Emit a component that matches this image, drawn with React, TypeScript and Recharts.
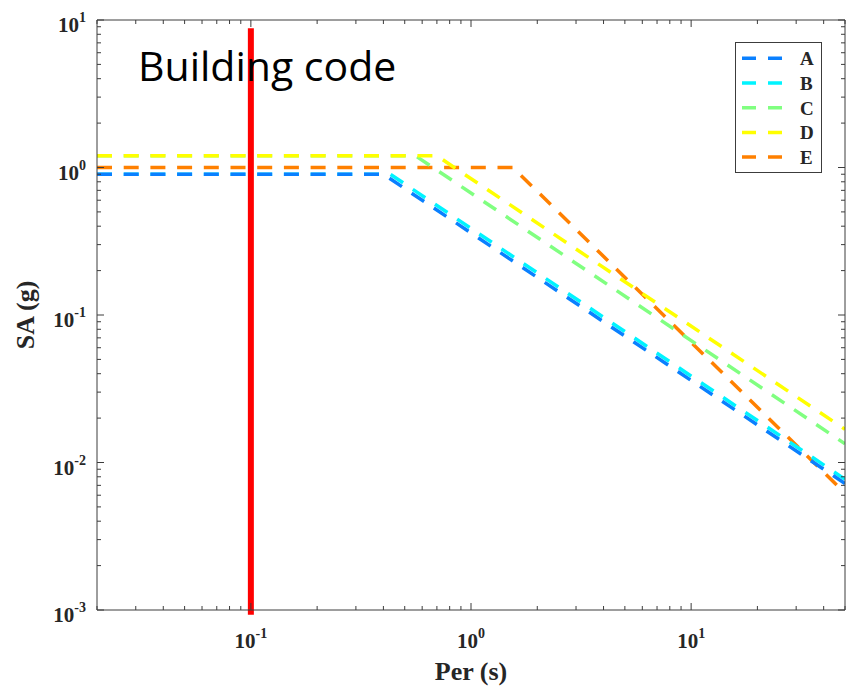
import React from 'react';
import { LineChart, Line, XAxis, YAxis, ReferenceLine, Legend } from 'recharts';

// ---- data ----
const seriesNames = ['A', 'B', 'C', 'D', 'E'];
const seriesColors = ['#0a80ff', '#00f4ff', '#80ff80', '#ffff00', '#ff8000'];

const periodsA = [0.02, 0.4, 50];
const saA = [0.9, 0.9, 0.0072];
const periodsB = [0.02, 0.43, 50];
const saB = [0.9, 0.9, 0.0077];
const periodsC = [0.02, 0.56, 50];
const saC = [1.2, 1.2, 0.0134];
const periodsD = [0.02, 0.7, 50];
const saD = [1.2, 1.2, 0.0168];
const periodsE = [0.02, 1.55, 50];
const saE = [1.0, 1.0, 0.0062];

const codePeriod = 0.1;
const codeSARange = [8.8, 0.00093];

const xDomain = [0.02, 50];
const yDomain = [0.001, 10];
const xMajorTicks = [0.1, 1, 10];
const xMajorLabels = ['-1', '0', '1'];
const yMajorTicks = [0.001, 0.01, 0.1, 1, 10];
const yMajorLabels = ['-3', '-2', '-1', '0', '1'];
const minorMultipliers = [2, 3, 4, 5, 6, 7, 8, 9];

const titleText = 'Building code';
const xTitle = 'Per (s)';
const yTitle = 'SA (g)';

// drawing order (later on top)
const drawOrder = [4, 2, 3, 1, 0];

// ---- helpers ----
const build = (p: number[], s: number[]) => p.map((per, i) => ({ per, sa: s[i] }));
const seriesData = [
  build(periodsA, saA),
  build(periodsB, saB),
  build(periodsC, saC),
  build(periodsD, saD),
  build(periodsE, saE),
];

const makeTicks = (decades: number[], lo: number, hi: number) => {
  const out: number[] = [];
  decades.forEach((d) => {
    out.push(d);
    minorMultipliers.forEach((m) => out.push(+(d * m).toPrecision(6)));
  });
  return out.filter((v) => v >= lo && v <= hi);
};
const xTicks = makeTicks([0.01, 0.1, 1, 10], xDomain[0], xDomain[1]);
const yTicks = makeTicks([0.001, 0.01, 0.1, 1, 10], yDomain[0], yDomain[1]);

const majorIndex = (v: number, majors: number[]) =>
  majors.findIndex((m) => Math.abs(m - v) / m < 1e-6);

const axisColor = '#3c3c3c';
const textColor = '#262626';
const serif = '"Liberation Serif", "Times New Roman", serif';
const MAJ = 7;
const MIN = 4;

const XTickBottom = (props: any) => {
  const { x, y, payload } = props;
  const mi = majorIndex(payload.value, xMajorTicks);
  const len = mi >= 0 ? MAJ : MIN;
  return (
    <g>
      <line x1={x} y1={y} x2={x} y2={y - len} stroke={axisColor} strokeWidth={1} />
      {mi >= 0 && (
        <text x={x} y={y + 38} textAnchor="middle" fontFamily={serif} fontWeight="bold" fontSize={21} fill={textColor}>
          10<tspan dy={-10} fontSize={14}>{xMajorLabels[mi]}</tspan>
        </text>
      )}
    </g>
  );
};

const XTickTop = (props: any) => {
  const { x, y, payload } = props;
  const mi = majorIndex(payload.value, xMajorTicks);
  const len = mi >= 0 ? MAJ : MIN;
  return <line x1={x} y1={y} x2={x} y2={y + len} stroke={axisColor} strokeWidth={1} />;
};

const YTickLeft = (props: any) => {
  const { x, y, payload } = props;
  const mi = majorIndex(payload.value, yMajorTicks);
  const len = mi >= 0 ? MAJ : MIN;
  return (
    <g>
      <line x1={x} y1={y} x2={x + len} y2={y} stroke={axisColor} strokeWidth={1} />
      {mi >= 0 && (
        <text x={x - 11} y={y + 12} textAnchor="end" fontFamily={serif} fontWeight="bold" fontSize={21} fill={textColor}>
          10<tspan dy={-10} fontSize={14}>{yMajorLabels[mi]}</tspan>
        </text>
      )}
    </g>
  );
};

const YTickRight = (props: any) => {
  const { x, y, payload } = props;
  const mi = majorIndex(payload.value, yMajorTicks);
  const len = mi >= 0 ? MAJ : MIN;
  return <line x1={x} y1={y} x2={x - len} y2={y} stroke={axisColor} strokeWidth={1} />;
};

const XTitle = (props: any) => {
  const vb = props.viewBox || {};
  return (
    <text x={vb.x + vb.width / 2} y={vb.y + 70} textAnchor="middle" fontFamily={serif} fontWeight="bold" fontSize={26} fill={textColor}>
      {xTitle}
    </text>
  );
};

const YTitle = (props: any) => {
  const vb = props.viewBox || {};
  const cx = 26;
  const cy = vb.y + vb.height / 2;
  return (
    <text x={cx} y={cy} transform={`rotate(-90 ${cx} ${cy})`} textAnchor="middle" fontFamily={serif} fontWeight="bold" fontSize={26} fill={textColor}>
      {yTitle}
    </text>
  );
};

const LegendBox = () => (
  <svg width={87} height={131} style={{ display: 'block' }}>
    <rect x={0.5} y={0.5} width={86} height={130} fill="#ffffff" stroke={axisColor} strokeWidth={1} />
    {seriesNames.map((n, i) => {
      const cy = 16.3 + i * 24.7;
      return (
        <g key={n}>
          <line x1={7} y1={cy} x2={48} y2={cy} stroke={seriesColors[i]} strokeWidth={3.5} strokeDasharray="14 12" />
          <text x={65} y={cy + 7} fontFamily={serif} fontWeight="bold" fontSize={19} fill={textColor}>
            {n}
          </text>
        </g>
      );
    })}
  </svg>
);

export default function App() {
  return (
    <div style={{ position: 'relative', width: 851, height: 690 }}>
      <LineChart width={851} height={690} margin={{ top: 11, right: 13, bottom: 0, left: 0 }}>
        <XAxis
          xAxisId="bottom"
          dataKey="per"
          type="number"
          scale="log"
          domain={xDomain}
          allowDataOverflow
          ticks={xTicks}
          interval={0}
          tickSize={0}
          tickMargin={0}
          tickLine={false}
          tick={XTickBottom}
          axisLine={{ stroke: axisColor, strokeWidth: 1 }}
          height={88}
          orientation="bottom"
          label={XTitle}
        />
        <XAxis
          xAxisId="top"
          dataKey="per"
          type="number"
          scale="log"
          domain={xDomain}
          allowDataOverflow
          ticks={xTicks}
          interval={0}
          tickSize={0}
          tickMargin={0}
          tickLine={false}
          tick={XTickTop}
          axisLine={{ stroke: axisColor, strokeWidth: 1 }}
          height={1}
          orientation="top"
        />
        <YAxis
          yAxisId="left"
          type="number"
          scale="log"
          domain={yDomain}
          allowDataOverflow
          ticks={yTicks}
          interval={0}
          tickSize={0}
          tickMargin={0}
          tickLine={false}
          tick={YTickLeft}
          axisLine={{ stroke: axisColor, strokeWidth: 1 }}
          width={89}
          orientation="left"
          label={YTitle}
        />
        <YAxis
          yAxisId="right"
          type="number"
          scale="log"
          domain={yDomain}
          allowDataOverflow
          ticks={yTicks}
          interval={0}
          tickSize={0}
          tickMargin={0}
          tickLine={false}
          tick={YTickRight}
          axisLine={{ stroke: axisColor, strokeWidth: 1 }}
          width={1}
          orientation="right"
        />
        {drawOrder.map((i) => (
          <Line
            key={seriesNames[i]}
            xAxisId="bottom"
            yAxisId="left"
            data={seriesData[i]}
            dataKey="sa"
            name={seriesNames[i]}
            type="linear"
            stroke={seriesColors[i]}
            strokeWidth={3.5}
            strokeDasharray="15 11.7"
            dot={false}
            activeDot={false}
            isAnimationActive={false}
          />
        ))}
        <ReferenceLine
          xAxisId="bottom"
          yAxisId="left"
          segment={[
            { x: codePeriod, y: codeSARange[0] },
            { x: codePeriod, y: codeSARange[1] },
          ]}
          stroke="#ff0000"
          strokeWidth={6}
          ifOverflow="visible"
        />
        <Legend
          layout="vertical"
          align="center"
          verticalAlign="middle"
          content={LegendBox}
          wrapperStyle={{ left: 727, top: 34, width: 87, height: 131 }}
        />
      </LineChart>
      <svg width={851} height={690} style={{ position: 'absolute', left: 0, top: 0, pointerEvents: 'none' }}>
        <text x={130} y={72.7} fontFamily='"Open Sans", sans-serif' fontSize={41} fill="#000000">
          {titleText}
        </text>
      </svg>
    </div>
  );
}
